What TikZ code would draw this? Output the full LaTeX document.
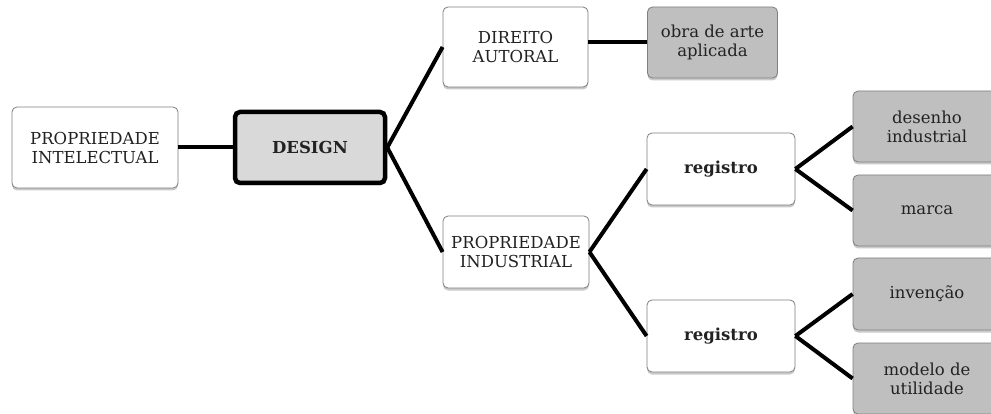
\documentclass[tikz,border=0pt]{standalone}
\usepackage{fontspec}
\setmainfont{DejaVu Serif}
\usetikzlibrary{shadows}
\definecolor{leafgray}{HTML}{BFBFBF}
\definecolor{designgray}{HTML}{D9D9D9}
\definecolor{edgegray}{HTML}{7F7F7F}
\definecolor{txt}{HTML}{222222}
\tikzset{
  base/.style={rectangle, rounded corners=5pt, align=center, inner sep=0pt,
    font=\fontsize{16.5}{19}\selectfont, text=txt,
    drop shadow={shadow xshift=0pt, shadow yshift=-2.5pt, opacity=0.35, fill=black!60}},
  whitebox/.style={base, draw=edgegray, line width=0.8pt, fill=white},
  leafbox/.style={base, draw=edgegray, line width=0.8pt, fill=leafgray},
  designbox/.style={base, draw=black, line width=4.5pt, fill=designgray},
  link/.style={line width=4pt, black}
}
\begin{document}
\begin{tikzpicture}[x=1pt,y=-1pt]
\useasboundingbox (0,0) rectangle (991,414);
\clip (0,0) rectangle (991,414);
\node[whitebox, minimum width=166pt, minimum height=81pt] (pi) at (95,147.5) {PROPRIEDADE\\INTELECTUAL};
\node[designbox, minimum width=150pt, minimum height=71pt] (design) at (310,147.5) {\textbf{DESIGN}};
\node[whitebox, minimum width=145pt, minimum height=80pt] (da) at (515.5,47) {DIREITO\\AUTORAL};
\node[leafbox, minimum width=130pt, minimum height=71pt] (obra) at (712.5,42.5) {obra de arte\\aplicada};
\node[whitebox, minimum width=146pt, minimum height=72pt] (pind) at (516,252) {PROPRIEDADE\\INDUSTRIAL};
\node[whitebox, minimum width=148pt, minimum height=72pt] (reg1) at (721,169) {\textbf{registro}};
\node[whitebox, minimum width=148pt, minimum height=72pt] (reg2) at (721,336) {\textbf{registro}};
\node[leafbox, minimum width=148pt, minimum height=71pt] (des) at (927,126.5) {desenho\\industrial};
\node[leafbox, minimum width=148pt, minimum height=71pt] (marca) at (927,210.5) {marca};
\node[leafbox, minimum width=148pt, minimum height=72pt] (inv) at (927,294) {invenção};
\node[leafbox, minimum width=148pt, minimum height=71pt] (mod) at (927,378.5) {modelo de\\utilidade};
\draw[link] (pi.east) -- (design.west);
\draw[link] (design.east) -- (da.west);
\draw[link] (design.east) -- (pind.west);
\draw[link] (da.east |- obra.west) -- (obra.west);
\draw[link] (pind.east) -- (reg1.west);
\draw[link] (pind.east) -- (reg2.west);
\draw[link] (reg1.east) -- (des.west);
\draw[link] (reg1.east) -- (marca.west);
\draw[link] (reg2.east) -- (inv.west);
\draw[link] (reg2.east) -- (mod.west);
\end{tikzpicture}
\end{document}
